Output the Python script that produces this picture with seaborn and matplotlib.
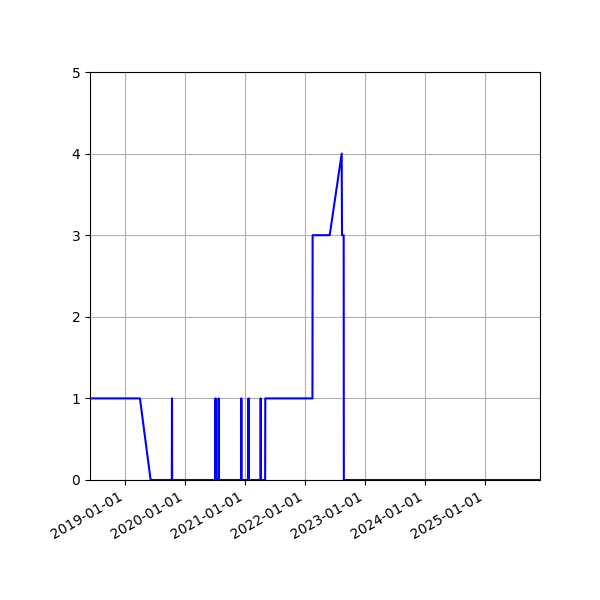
import matplotlib
matplotlib.use('Agg')
import matplotlib.pyplot as plt
import matplotlib.dates as mdates
import seaborn as sns
import pandas as pd

dates = ['2018-06-04', '2019-04-04', '2019-06-08',
         '2019-10-15', '2019-10-16', '2019-10-17',
         '2020-07-06', '2020-07-07', '2020-07-08',
         '2020-07-25', '2020-07-26', '2020-07-27',
         '2020-12-10', '2020-12-11', '2020-12-12',
         '2021-01-23', '2021-01-24', '2021-01-25',
         '2021-04-07', '2021-04-08', '2021-04-09',
         '2021-05-05', '2021-05-06',
         '2022-02-17', '2022-02-18', '2022-06-02',
         '2022-08-14', '2022-08-16', '2022-08-26', '2022-08-27',
         '2025-12-03']
values = [1, 1, 0,
          0, 1, 0,
          0, 1, 0,
          0, 1, 0,
          0, 1, 0,
          0, 1, 0,
          0, 1, 0,
          0, 1,
          1, 3, 3,
          4, 3, 3, 0,
          0]

df = pd.DataFrame({'date': pd.to_datetime(dates), 'value': values})

fig, ax = plt.subplots(figsize=(6, 6), dpi=100)
sns.lineplot(data=df, x='date', y='value', estimator=None, sort=False,
             color='blue', linewidth=1.5, ax=ax)
ax.set_xlim(df['date'].min(), df['date'].max())
ax.set_ylim(0, 5)
ax.xaxis.set_major_locator(mdates.YearLocator())
ax.xaxis.set_major_formatter(mdates.DateFormatter('%Y-%m-%d'))
ax.set_xlabel('')
ax.set_ylabel('')
ax.grid(True)
fig.autofmt_xdate()
plt.subplots_adjust(left=0.15, right=0.9, top=0.88, bottom=0.2)
plt.savefig('out.png')
